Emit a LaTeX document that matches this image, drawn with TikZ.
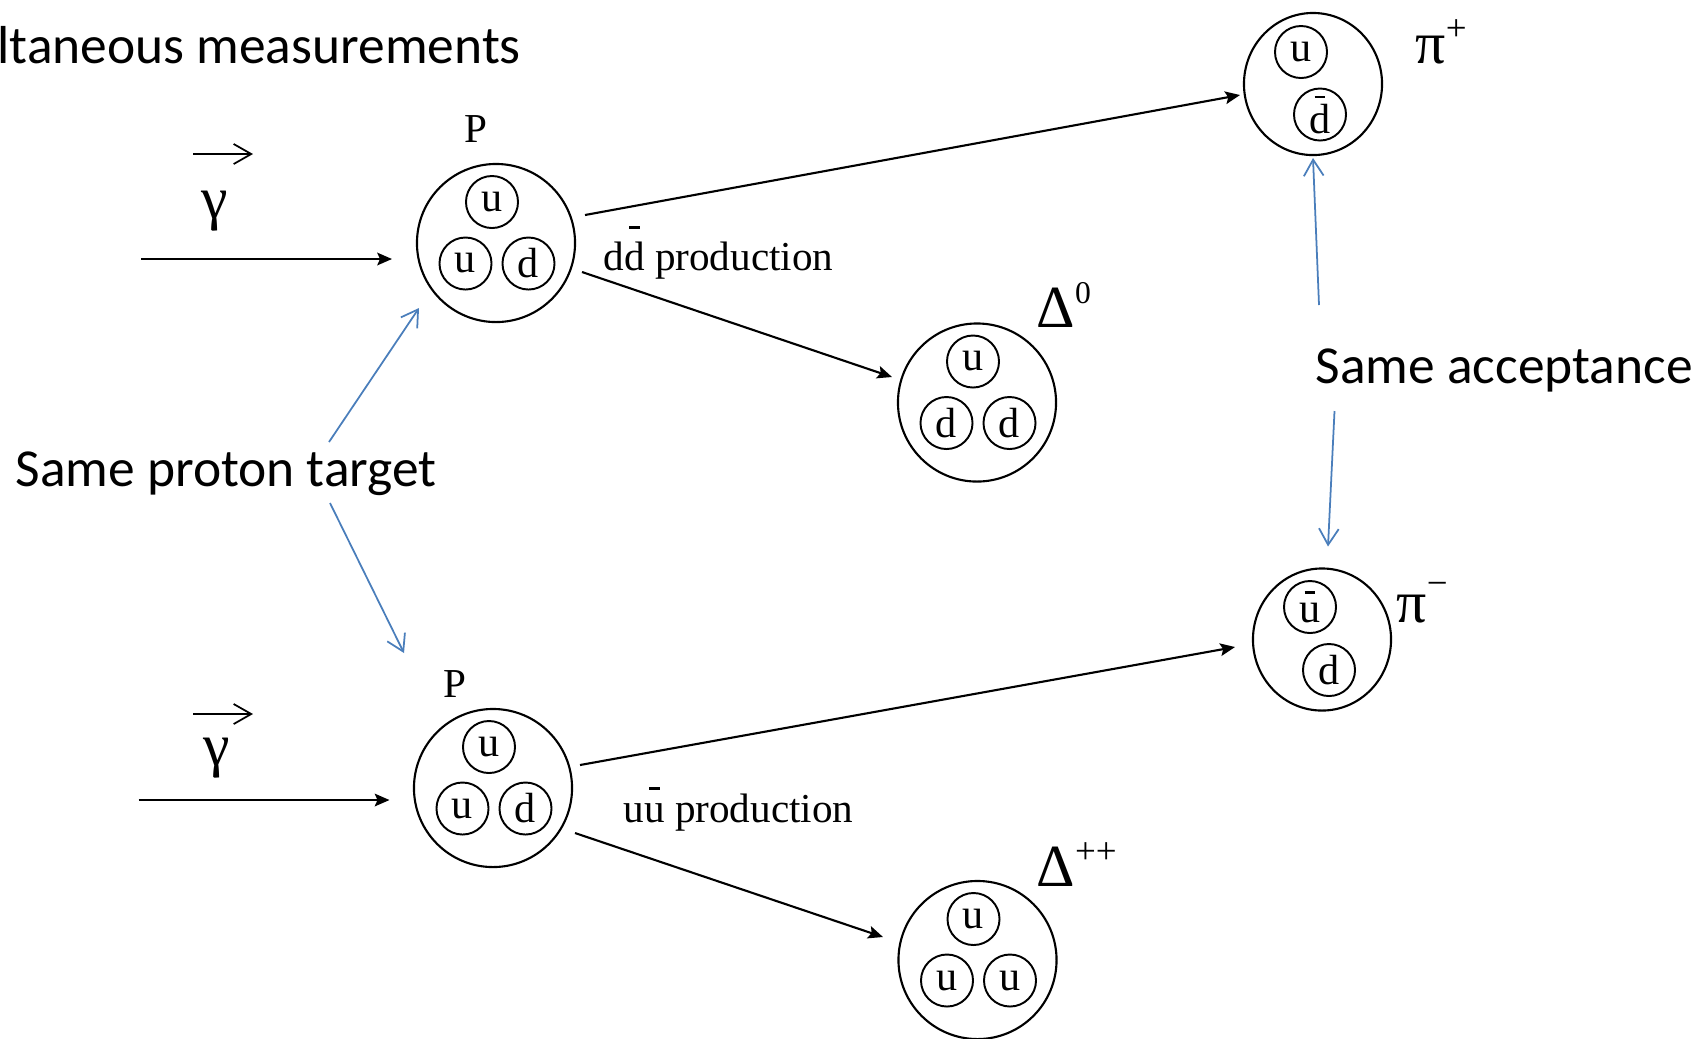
\documentclass[tikz,border=0pt]{standalone}
\usepackage{fontspec}
\setmainfont{Carlito}
\newfontfamily\tms{Liberation Serif}
\usetikzlibrary{arrows.meta,calc,shapes.geometric}
\definecolor{lblue}{HTML}{4A7EBB}
\newcommand\qbar[2]{\leavevmode\setbox0\hbox{#2}\hbox to\wd0{\hss\rule[#1]{0.25em}{0.06em}\hss}\kern-\wd0\box0\relax}
\tikzset{
 big/.style={circle,draw,line width=0.6pt,minimum size=1.58cm,inner sep=0pt},
 meson/.style={ellipse,draw,line width=0.6pt,minimum width=1.38cm,minimum height=1.42cm,inner sep=0pt},
 quark/.style={circle,draw,line width=0.55pt,minimum size=0.52cm,inner sep=0pt,font=\tms\fontsize{12}{14}\selectfont},
 arr/.style={line width=0.6pt,-{Stealth[length=4.2pt,width=3.6pt,inset=0.8pt]}},
 barr/.style={draw=lblue,line width=0.5pt,-{Straight Barb[length=4.6pt,width=5.6pt]}},
 vec/.style={line width=0.5pt,-{Straight Barb[length=5pt,width=5.7pt]}},
 lab/.style={inner sep=0pt,font=\tms\fontsize{11.7}{14}\selectfont},
 grk/.style={inner sep=0pt,font=\tms\fontsize{17}{20}\selectfont},
 sans/.style={inner sep=0pt,font=\fontsize{15.2}{18}\selectfont},
}
\newcommand\supf{\fontsize{10.5}{12}\selectfont}
\newcommand\supz{\fontsize{9}{11}\selectfont}
\begin{document}
\begin{tikzpicture}[x=0.01cm,y=-0.01cm]
\useasboundingbox (0,0) rectangle (1697,1038);
% title and side labels
\node[sans,anchor=base west] (title) at (-3,63) {ltaneous measurements};
\node[sans,anchor=base west] (spt) at (15,486) {Same proton target};
\node[sans,anchor=base west] (sacc) at (1315,383) {Same acceptance};
% hadrons
\node[big] (P1) at (496,243) {};
\node[big] (P2) at (493,788) {};
\node[big] (D0) at (977,402.5) {};
\node[big] (Dpp) at (977.5,960) {};
\node[meson] (pip) at (1313,84) {};
\node[meson] (pim) at (1322,639.5) {};
% quarks
\node[quark] (P1a) at ($(P1)+(-4,-41)$) {u};
\node[quark] (P1b) at ($(P1)+(-30.5,20.5)$) {u};
\node[quark] (P1c) at ($(P1)+(32.5,20.5)$) {d};
\node[quark] (P2a) at ($(P2)+(-4,-41)$) {u};
\node[quark] (P2b) at ($(P2)+(-30.5,20.5)$) {u};
\node[quark] (P2c) at ($(P2)+(32.5,20.5)$) {d};
\node[quark] (D0a) at ($(D0)+(-4,-41)$) {u};
\node[quark] (D0b) at ($(D0)+(-30.5,20.5)$) {d};
\node[quark] (D0c) at ($(D0)+(32.5,20.5)$) {d};
\node[quark] (Dppa) at ($(Dpp)+(-4,-41)$) {u};
\node[quark] (Dppb) at ($(Dpp)+(-30.5,20.5)$) {u};
\node[quark] (Dppc) at ($(Dpp)+(32.5,20.5)$) {u};
\node[quark] (pipa) at ($(pip)+(-12,-32)$) {u};
\node[quark] (pipb) at ($(pip)+(7,30.5)$) {\qbar{0.83em}{d}};
\node[quark] (pima) at ($(pim)+(-12,-32.5)$) {\qbar{0.69em}{u}};
\node[quark] (pimb) at ($(pim)+(7,30.5)$) {d};
% particle labels
\node[lab,anchor=base] (LP1) at (476,142) {P};
\node[lab,anchor=base] (LP2) at (455,697) {P};
\node[grk,anchor=base west] (Lpip) at (1415,63) {π\raisebox{6.3pt}{\supf +}};
\node[grk,anchor=base west] (Lpim) at (1396,622) {π\raisebox{7.5pt}{\supf −}};
\node[grk,anchor=base west] (LD0) at (1036,327) {Δ\raisebox{6.8pt}{\supz 0}};
\node[grk,anchor=base west] (LDpp) at (1036,886) {Δ\raisebox{6.3pt}{\supf ++}};
\node[lab,anchor=base west] (ddlab) at (603,270) {d\qbar{1.0em}{d} production};
\node[lab,anchor=base west] (uulab) at (623,822) {u\qbar{0.78em}{u} production};
% photons
\node[grk] (g1) at (215,211.5) {γ};
\node[grk] (g2) at (216.5,758.5) {γ};
\draw[vec] ($(g1)+(-22,-57.5)$) -- ++(60,0);
\draw[vec] ($(g2)+(-23.5,-44.5)$) -- ++(60,0);
\coordinate (b1s) at (141,259);
\coordinate (b2s) at (138.5,800);
\draw[arr] (b1s) -- ($(P1)+(-104,16)$);
\draw[arr] (b2s) -- ($(P2)+(-103.5,12)$);
% production arrows
\draw[arr] ($(P1)+(89,-28)$) -- ($(pip)+(-73,11)$);
\draw[arr] ($(P1)+(86,29)$) -- ($(D0)+(-85,-25.5)$);
\draw[arr] ($(P2)+(87,-23)$) -- ($(pim)+(-87,7.5)$);
\draw[arr] ($(P2)+(82,45)$) -- ($(Dpp)+(-94.5,-23)$);
% blue annotation arrows
\coordinate (s1) at (329,442);
\coordinate (s2) at (330,503);
\coordinate (a1) at (1319,305);
\coordinate (a2) at (1334.5,411);
\draw[barr] (s1) -- ($(P1)+(-77,65)$);
\draw[barr] (s2) -- ($(P2)+(-89,-135)$);
\draw[barr] (a1) -- ($(pip)+(0,74)$);
\draw[barr] (a2) -- ($(pim)+(6,-93)$);
\end{tikzpicture}
\end{document}
